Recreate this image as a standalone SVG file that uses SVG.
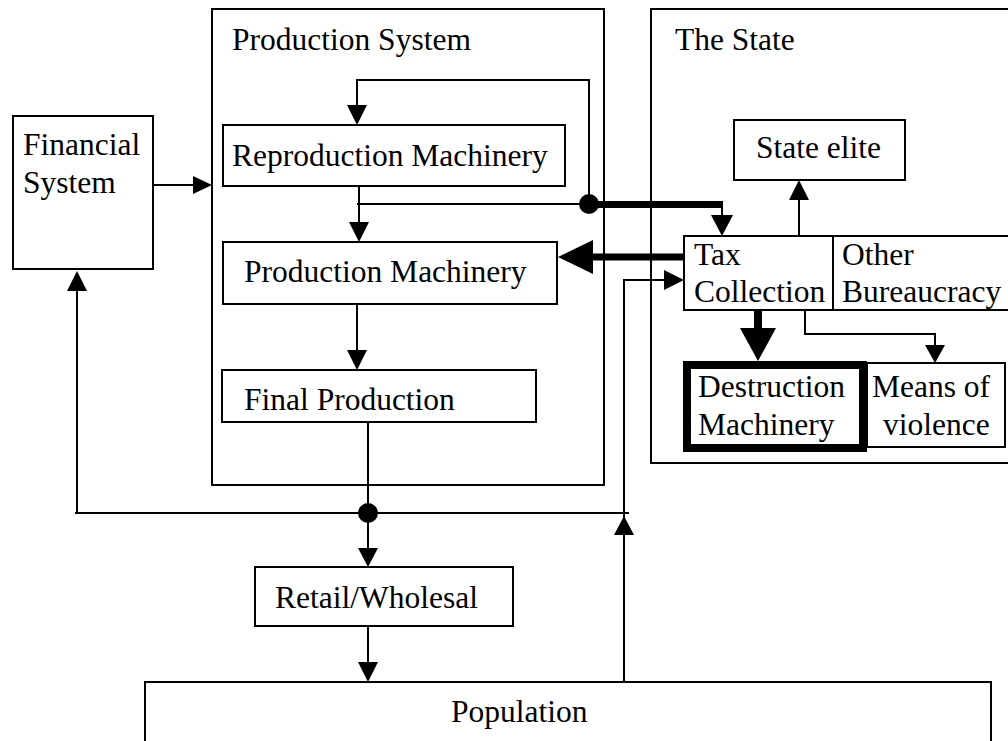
<svg xmlns="http://www.w3.org/2000/svg" width="1008" height="741" viewBox="0 0 1008 741">
  <style>
    .box { fill: #fff; stroke: #000; stroke-width: 2; }
    .frame { fill: none; stroke: #000; stroke-width: 2; }
    .heavy { fill: #fff; stroke: #000; stroke-width: 8; }
    text { font-family: 'Liberation Serif', 'DejaVu Serif', serif; font-size: 31.5px; fill: #000; }
    .ln { fill: none; stroke: #000; stroke-width: 2; }
    .thick { fill: none; stroke: #000; stroke-width: 7; }
    .head { fill: #000; stroke: none; }
  </style>
  <rect width="1008" height="741" fill="#fff"/>

  <g id="financial-system">
    <rect class="box" x="13" y="116" width="140" height="153"/>
    <text x="23" y="155">Financial</text>
    <text x="23" y="193">System</text>
  </g>

  <g id="production-system">
    <rect class="frame" x="212" y="9" width="392" height="476"/>
    <text x="232" y="50">Production System</text>
  </g>

  <g id="reproduction-machinery">
    <rect class="box" x="223" y="125" width="342" height="61"/>
    <text x="232" y="166">Reproduction Machinery</text>
  </g>

  <g id="production-machinery">
    <rect class="box" x="223" y="242" width="334" height="62"/>
    <text x="244" y="282">Production Machinery</text>
  </g>

  <g id="final-production">
    <rect class="box" x="222" y="370" width="314" height="52"/>
    <text x="244" y="410">Final Production</text>
  </g>

  <g id="the-state">
    <rect class="frame" x="651" y="9" width="362" height="454"/>
    <text x="675" y="50">The State</text>
  </g>

  <g id="state-elite">
    <rect class="box" x="734" y="120" width="171" height="60"/>
    <text x="756" y="158">State elite</text>
  </g>

  <g id="tax-collection">
    <rect class="box" x="684" y="236" width="149" height="74"/>
    <text x="694" y="265">Tax</text>
    <text x="694" y="302">Collection</text>
  </g>

  <g id="other-bureaucracy">
    <rect class="box" x="833" y="236" width="180" height="74"/>
    <text x="842" y="265">Other</text>
    <text x="842" y="302">Bureaucracy</text>
  </g>

  <g id="destruction-machinery">
    <rect class="heavy" x="687" y="365" width="176" height="83"/>
    <text x="698" y="397">Destruction</text>
    <text x="698" y="435">Machinery</text>
  </g>

  <g id="means-of-violence">
    <rect class="box" x="867" y="363" width="138" height="84"/>
    <text x="872" y="397">Means of</text>
    <text x="883" y="435">violence</text>
  </g>

  <g id="retail-wholesale">
    <rect class="box" x="255" y="567" width="258" height="59"/>
    <text x="275" y="608">Retail/Wholesal</text>
  </g>

  <g id="population">
    <rect class="box" x="145" y="682" width="846" height="70"/>
    <text x="451" y="722">Population</text>
  </g>

  <g id="connectors">
    <!-- financial system feeds production system -->
    <line class="ln" x1="153" y1="185" x2="194" y2="185"/>
    <polygon class="head" points="193,176 212,185 193,194"/>

    <!-- reinvestment loop back into reproduction machinery -->
    <polyline class="ln" points="589,204 589,80 357,80 357,106"/>
    <polygon class="head" points="347,105 367,105 357,125"/>

    <!-- reproduction to production machinery -->
    <line class="ln" x1="359" y1="186" x2="359" y2="223"/>
    <polygon class="head" points="349,222 369,222 359,242"/>
    <line class="ln" x1="357" y1="204" x2="589" y2="204"/>
    <circle cx="589" cy="204" r="10" fill="#000"/>

    <!-- heavy flow to tax collection -->
    <line class="thick" x1="589" y1="204.5" x2="723" y2="204.5"/>
    <line class="ln" x1="722" y1="204" x2="722" y2="216"/>
    <polygon class="head" points="711,215 733,215 722,236"/>

    <!-- tax collection back to production machinery -->
    <line class="thick" x1="684" y1="257" x2="592" y2="257"/>
    <polygon class="head" points="593,240 593,274 558,257"/>

    <!-- production machinery to final production -->
    <line class="ln" x1="357" y1="304" x2="357" y2="351"/>
    <polygon class="head" points="347,350 367,350 357,370"/>

    <!-- final production down to retail -->
    <line class="ln" x1="368" y1="422" x2="368" y2="549"/>
    <circle cx="368" cy="513" r="10" fill="#000"/>
    <polygon class="head" points="358,548 378,548 368,567"/>

    <!-- distribution bus -->
    <line class="ln" x1="75" y1="513" x2="629" y2="513"/>
    <line class="ln" x1="77" y1="513" x2="77" y2="290"/>
    <polygon class="head" points="67,291 87,291 77,271"/>

    <!-- population up to tax collection -->
    <polyline class="ln" points="624,682 624,280 665,280"/>
    <polygon class="head" points="664,270 664,290 684,280"/>
    <polygon class="head" points="614,535 634,535 624,516"/>

    <!-- retail to population -->
    <line class="ln" x1="368" y1="626" x2="368" y2="663"/>
    <polygon class="head" points="358,662 378,662 368,682"/>

    <!-- tax collection to destruction machinery -->
    <line stroke="#000" stroke-width="8" x1="758" y1="310" x2="758" y2="330"/>
    <polygon class="head" points="740,328 776,328 758,361"/>

    <!-- tax collection to means of violence -->
    <polyline class="ln" points="805,310 805,334 935,334 935,346"/>
    <polygon class="head" points="925,345 945,345 935,363"/>

    <!-- tax collection up to state elite -->
    <line class="ln" x1="799" y1="236" x2="799" y2="199"/>
    <polygon class="head" points="789,200 809,200 799,180"/>
  </g>
</svg>
